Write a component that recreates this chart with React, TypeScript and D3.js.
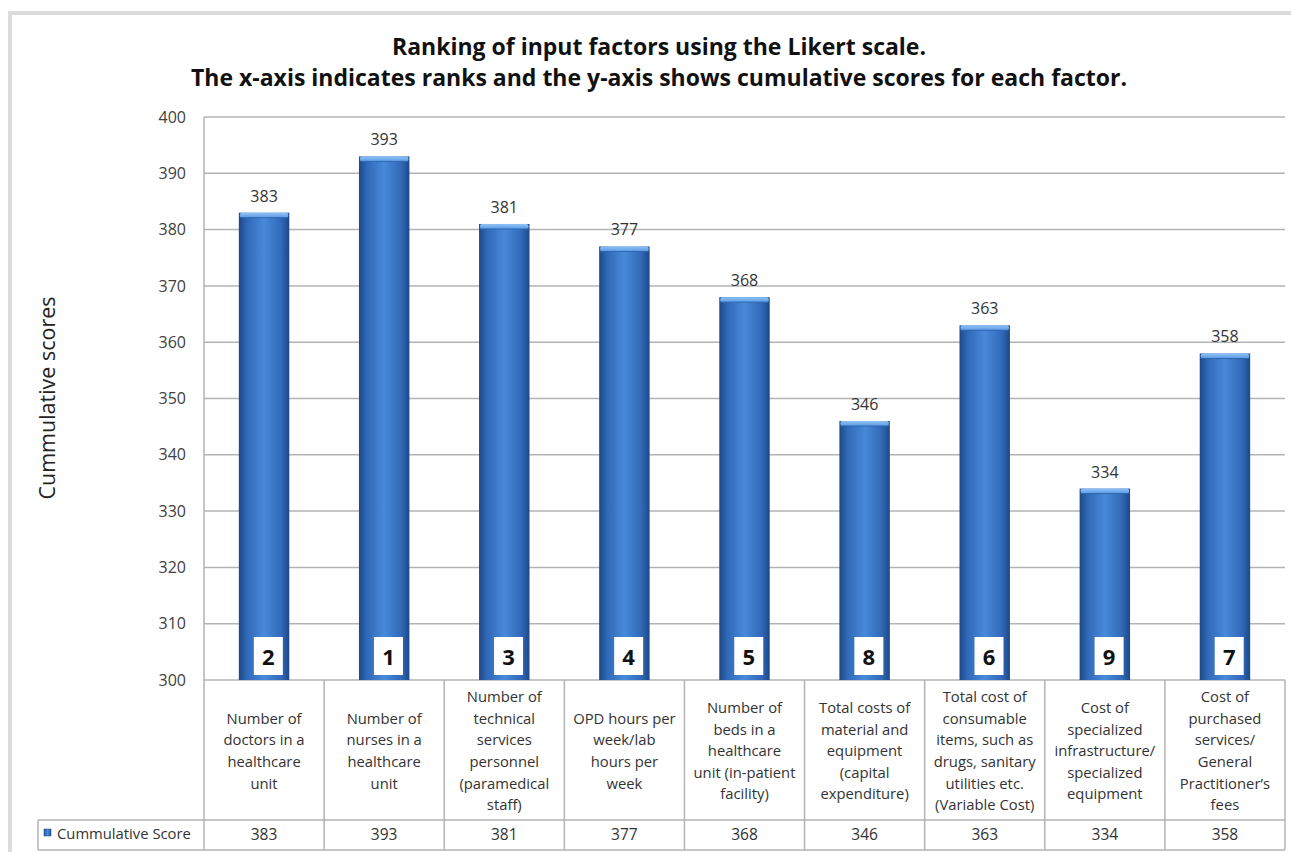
import React from "react";
import * as d3 from "d3";

const categories: string[][] = [
  ["Number of", "doctors in a", "healthcare", "unit"],
  ["Number of", "nurses in a", "healthcare", "unit"],
  ["Number of", "technical", "services", "personnel", "(paramedical", "staff)"],
  ["OPD hours per", "week/lab", "hours per", "week"],
  ["Number of", "beds in a", "healthcare", "unit (in-patient", "facility)"],
  ["Total costs of", "material and", "equipment", "(capital", "expenditure)"],
  ["Total cost of", "consumable", "items, such as", "drugs, sanitary", "utilities etc.", "(Variable Cost)"],
  ["Cost of", "specialized", "infrastructure/", "specialized", "equipment"],
  ["Cost of", "purchased", "services/", "General", "Practitioner\u2019s", "fees"],
];
const scores: number[] = [383, 393, 381, 377, 368, 346, 363, 334, 358];
const ranks: number[] = [2, 1, 3, 4, 5, 8, 6, 9, 7];
const yTicks: number[] = [300, 310, 320, 330, 340, 350, 360, 370, 380, 390, 400];
const seriesName = "Cummulative Score";
const titleLines = [
  "Ranking of input factors using the Likert scale.",
  "The x-axis indicates ranks and the y-axis shows cumulative scores for each factor.",
];
const yAxisTitle = "Cummulative scores";

const W = 1291;
const H = 852;
const FONT = "'Open Sans', Lato, sans-serif";

export default function App() {
  const left = 204;
  const right = 1285;
  const top = 117;
  const bottom = 680;
  const catBottom = 820;
  const tableBottom = 850;
  const legendLeft = 38;

  const idx = scores.map((_, i) => String(i));
  const x = d3
    .scaleBand<string>()
    .domain(idx)
    .range([left, right])
    .paddingInner(0.58)
    .paddingOuter(0.29);
  const step = x.step();
  const y = d3.scaleLinear().domain([300, 400]).range([bottom, top]);
  const bw = x.bandwidth();
  const grid = "#b3b3b3";
  const lineH = 21.6;

  return (
    <svg
      width={W}
      height={H}
      style={{ position: "absolute", left: 0, top: 0, background: "#fff" }}
      fontFamily={FONT}
    >
      <defs>
        <linearGradient id="barGrad" x1="0" x2="1" y1="0" y2="0">
          <stop offset="0%" stopColor="#1d4886" />
          <stop offset="16%" stopColor="#3069b8" />
          <stop offset="50%" stopColor="#4889d9" />
          <stop offset="84%" stopColor="#3069b8" />
          <stop offset="100%" stopColor="#1d4886" />
        </linearGradient>
        <linearGradient id="capGrad" x1="0" x2="0" y1="0" y2="1">
          <stop offset="0%" stopColor="#8fc2f5" />
          <stop offset="100%" stopColor="#5a9be6" />
        </linearGradient>
      </defs>

      {/* outer frame */}
      <path
        d={`M ${W + 5} 13 L 10 13 L 10 ${H + 5}`}
        fill="none"
        stroke="#dcdcdc"
        strokeWidth={4}
      />

      {/* title */}
      {titleLines.map((t, i) => (
        <text
          key={i}
          x={659}
          y={55 + i * 31}
          textAnchor="middle"
          fontSize={23}
          fontWeight="bold"
          fill="#111"
        >
          {t}
        </text>
      ))}

      {/* gridlines */}
      {yTicks.map((t) => (
        <g key={t}>
          <line x1={left} x2={right} y1={y(t)} y2={y(t)} stroke={grid} strokeWidth={1.5} />
          <text
            x={186}
            y={y(t)}
            dy="0.35em"
            textAnchor="end"
            fontSize={16}
            fill="#404040"
          >
            {t}
          </text>
        </g>
      ))}

      {/* y axis title */}
      <text
        transform={`translate(55, ${398}) rotate(-90)`}
        textAnchor="middle"
        fontSize={21.5}
        fill="#222"
      >
        {yAxisTitle}
      </text>

      {/* bars */}
      {scores.map((v, i) => {
        const bx = x(String(i))!;
        const by = y(v);
        return (
          <g key={i}>
            <rect x={bx} y={by} width={bw} height={bottom - by} fill="url(#barGrad)" />
            <rect x={bx + 1} y={by} width={bw - 2} height={5} rx={2} fill="url(#capGrad)" />
            <line x1={bx + 1} x2={bx + bw - 1} y1={by + 5} y2={by + 5} stroke="#2f66ad" strokeWidth={1} />
            <text
              x={bx + bw / 2}
              y={by - 11}
              textAnchor="middle"
              fontSize={16}
              fill="#333"
            >
              {v}
            </text>
            <rect x={bx + 15} y={637} width={29} height={38} fill="#fff" />
            <text
              x={bx + 29.5}
              y={657}
              dy="0.36em"
              textAnchor="middle"
              fontSize={22}
              fontWeight="bold"
              fill="#111"
            >
              {ranks[i]}
            </text>
          </g>
        );
      })}

      {/* table */}
      <line x1={left} x2={left} y1={top} y2={tableBottom} stroke={grid} strokeWidth={1.5} />
      {idx.map((_, i) => (
        <line
          key={i}
          x1={left + (i + 1) * step}
          x2={left + (i + 1) * step}
          y1={bottom}
          y2={tableBottom}
          stroke={grid}
          strokeWidth={1.5}
        />
      ))}
      <line x1={legendLeft} x2={right} y1={catBottom} y2={catBottom} stroke={grid} strokeWidth={1.5} />
      <line x1={legendLeft} x2={right} y1={tableBottom} y2={tableBottom} stroke={grid} strokeWidth={1.5} />
      <line x1={legendLeft} x2={legendLeft} y1={catBottom} y2={tableBottom} stroke={grid} strokeWidth={1.5} />

      {categories.map((lines, i) => {
        const cx = left + (i + 0.5) * step;
        const cy = 751;
        const startY = cy - ((lines.length - 1) * lineH) / 2;
        return (
          <g key={i}>
            {lines.map((l, j) => (
              <text
                key={j}
                x={cx}
                y={startY + j * lineH}
                dy="0.35em"
                textAnchor="middle"
                fontSize={14.8}
                fill="#333"
              >
                {l}
              </text>
            ))}
            <text
              x={cx}
              y={835}
              dy="0.35em"
              textAnchor="middle"
              fontSize={15.5}
              fill="#333"
            >
              {scores[i]}
            </text>
          </g>
        );
      })}

      {/* legend key */}
      <rect x={44} y={829} width={7} height={7} fill="url(#barGrad)" stroke="#1d4886" strokeWidth={0.5} />
      <text x={57} y={834} dy="0.35em" fontSize={14.8} fill="#333">
        {seriesName}
      </text>
    </svg>
  );
}
